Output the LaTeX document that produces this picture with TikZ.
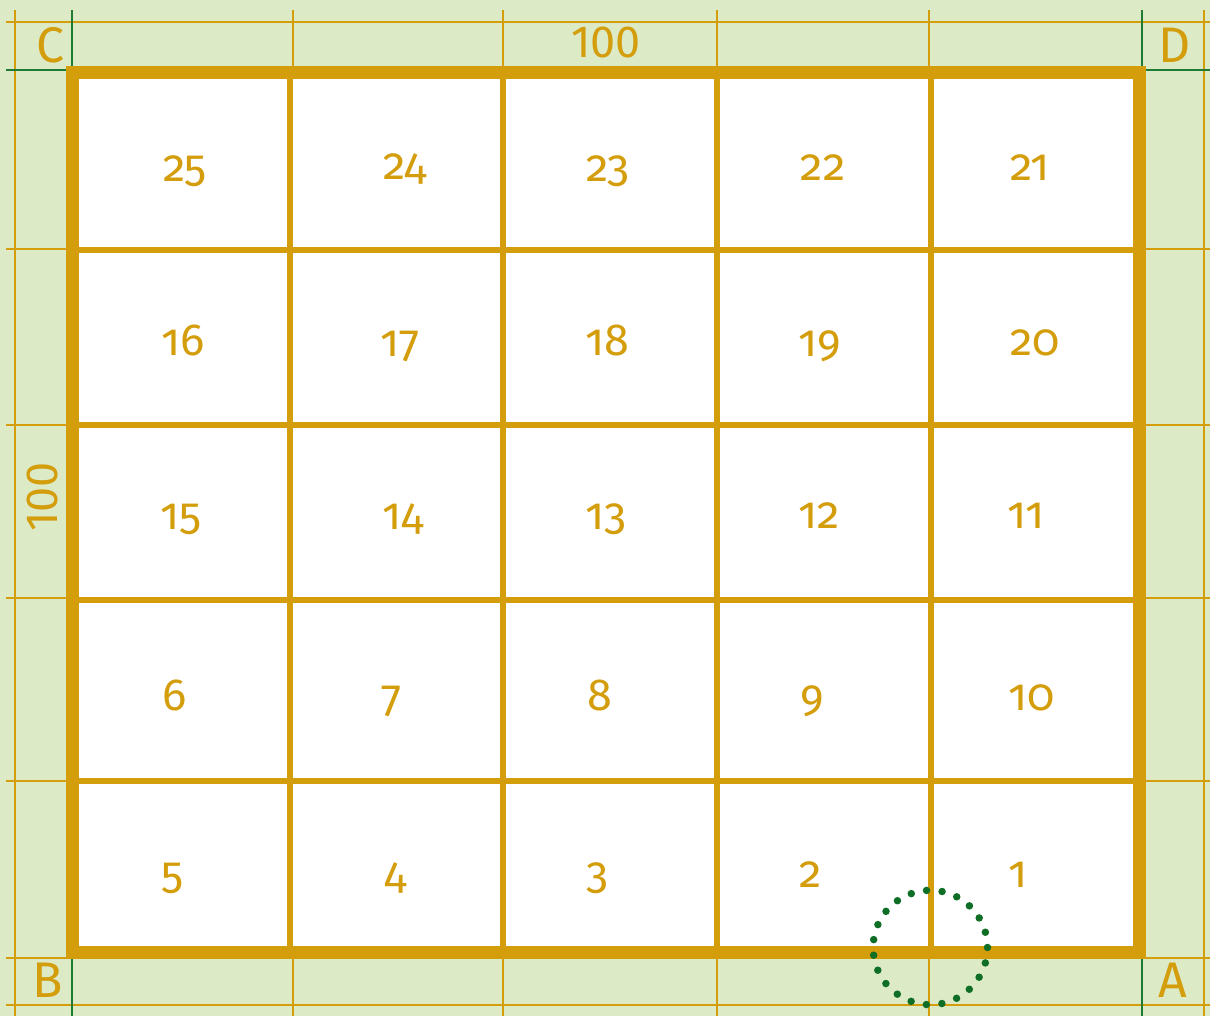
\documentclass[tikz,border=0pt]{standalone}
\usepackage{fontspec}
\setmainfont{Fira Sans}
\newfontfamily\numfont[Numbers=OldStyle]{Fira Sans}
\newfontfamily\labfont[Numbers=Lining]{Fira Sans}
\definecolor{bggreen}{HTML}{DDEAC6}
\definecolor{gold}{HTML}{D49D0B}
\definecolor{linegreen}{HTML}{1E7B32}
\definecolor{dotgreen}{HTML}{0F6E26}
\tikzset{
  thingold/.style={draw=gold,line width=2pt},
  thingreen/.style={draw=linegreen,line width=2pt},
  innerline/.style={draw=gold,line width=5.5pt},
  borderline/.style={draw=gold,line width=13pt},
  cellnum/.style={anchor=base,text=gold,font=\numfont\fontsize{45}{45}\selectfont,inner sep=0pt},
  cornerlab/.style={text=gold,font=\labfont\fontsize{50}{50}\selectfont,inner sep=0pt},
  dimlab/.style={text=gold,font=\labfont\fontsize{45}{45}\selectfont,inner sep=0pt},
}
\begin{document}
\begin{tikzpicture}[x=1pt,y=-1pt]
\useasboundingbox (0,0) rectangle (1210,1016);
\fill[bggreen] (0,0) rectangle (1210,1016);
% thin gold grid lines
\foreach \x in {15,293,503,717,929,1204} \draw[thingold] (\x,10) -- (\x,1016);
\foreach \y in {22,249,425,598,781,958,1005} \draw[thingold] (6,\y) -- (1210,\y);
% green corner lines
\draw[thingreen] (72,10) -- (72,70);
\draw[thingreen] (6,70) -- (72,70);
\draw[thingreen] (1142,10) -- (1142,70);
\draw[thingreen] (1142,70) -- (1210,70);
\draw[thingreen] (72,958) -- (72,1016);
\draw[thingreen] (1142,958) -- (1142,1016);
% white board
\fill[white] (72.5,73) rectangle (1139,952);
% inner thick lines
\foreach \x in {290,503,717,931} \draw[innerline] (\x,73) -- (\x,952);
\foreach \y in {250,425,600,781} \draw[innerline] (72.5,\y) -- (1139,\y);
% border
\draw[borderline] (72.5,73) rectangle (1139,952);
% cell numbers
\node[cellnum] (n25) at (185,182) {25};
\node[cellnum] (n24) at (405,180) {24};
\node[cellnum] (n23) at (608,182) {23};
\node[cellnum] (n22) at (823,181) {22};
\node[cellnum] (n21) at (1030,181) {21};
\node[cellnum] (n16) at (183,355) {16};
\node[cellnum] (n17) at (400,356) {17};
\node[cellnum] (n18) at (607,355) {18};
\node[cellnum] (n19) at (820,356) {19};
\node[cellnum] (n20) at (1035,355) {20};
\node[cellnum] (n15) at (181,529) {15};
\node[cellnum] (n14) at (403,529) {14};
\node[cellnum] (n13) at (606,529) {13};
\node[cellnum] (n12) at (819,528) {12};
\node[cellnum] (n11) at (1026,528) {11};
\node[cellnum] (n6) at (175,710) {6};
\node[cellnum] (n7) at (392,711) {7};
\node[cellnum] (n8) at (600,710) {8};
\node[cellnum] (n9) at (812,711) {9};
\node[cellnum] (n10) at (1032,710) {10};
\node[cellnum] (n5) at (173,888) {5};
\node[cellnum] (n4) at (396,888) {4};
\node[cellnum] (n3) at (597,888) {3};
\node[cellnum] (n2) at (811,887) {2};
\node[cellnum] (n1) at (1018,887) {1};
% corner and dimension labels
\node[cornerlab] (lc) at (50,45) {C};
\node[cornerlab] (ld) at (1175,45) {D};
\node[cornerlab] (lb) at (48,980) {B};
\node[cornerlab] (la) at (1173,980) {A};
\node[dimlab] (ltop) at (606,42) {100};
\node[dimlab,rotate=90] (lleft) at (42,497) {100};
% dotted circle
\draw[dotgreen,line width=7.5pt,line cap=round,dash pattern=on 0pt off 15.63pt] (930.3,947.5) circle[radius=57.2];
\end{tikzpicture}
\end{document}
